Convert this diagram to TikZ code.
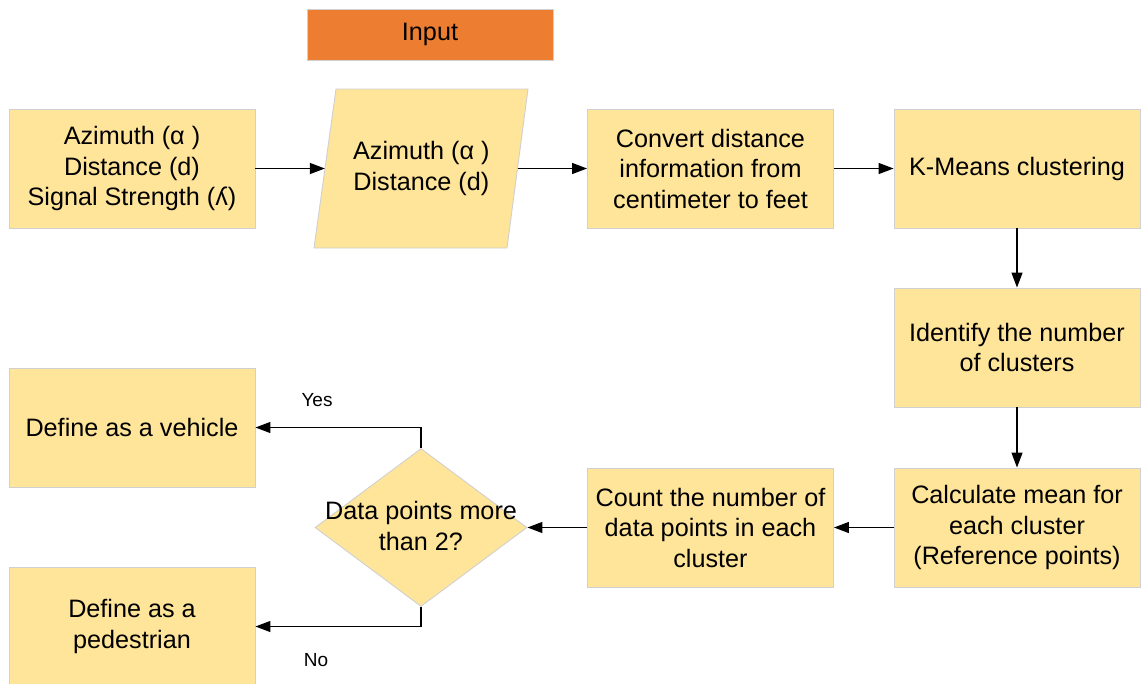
\documentclass[tikz,border=0pt]{standalone}
\usepackage{fontspec}
\setmainfont{Liberation Sans}
\usetikzlibrary{arrows.meta,shapes.geometric}
\definecolor{boxfill}{HTML}{FFE599}
\definecolor{boxline}{HTML}{D0D0D0}
\definecolor{inputfill}{HTML}{ED7D31}
\begin{document}
\begin{tikzpicture}[x=1pt,y=-1pt,
  every node/.style={font=\fontsize{25.2}{30.5}\selectfont, align=center, inner sep=0pt},
  stepbox/.style={draw=boxline, line width=0.9pt, fill=boxfill, minimum width=246pt, minimum height=119pt},
  flow/.style={line width=1.3pt, -{Triangle[length=15pt,width=11pt]}},
  branch/.style={font=\fontsize{19}{22}\selectfont}]
\useasboundingbox (0,0) rectangle (1143,683);
\begin{scope}
\clip (0,0) rectangle (1143,683);
% header
\node[draw=boxline, line width=0.9pt, fill=inputfill, minimum width=246pt, minimum height=51pt] (input) at (430,34.5) {Input};
% top row
\node[stepbox] (raw) at (132,168.5) {Azimuth (α )\\Distance (d)\\Signal Strength (ʎ)};
\draw[draw=boxline, line width=0.9pt, fill=boxfill] (336,89) -- (528,89) -- (507,248) -- (314,248) -- cycle;
\node[minimum width=192.5pt, minimum height=159pt] (para) at (421.3,168.5) {Azimuth (α )\\Distance (d)};
\node[stepbox] (conv) at (710.5,168.5) {Convert distance\\information from\\centimeter to feet};
\node[stepbox] (kmeans) at (1017,168.5) {K-Means clustering};
% right column
\node[stepbox] (ident) at (1017,347.5) {Identify the number\\of clusters};
\node[stepbox] (mean) at (1017,527.5) {Calculate mean for\\each cluster\\(Reference points)};
% bottom row
\node[stepbox] (count) at (710.5,527.5) {Count the number of\\data points in each\\cluster};
\node[diamond, draw=boxline, line width=0.9pt, fill=boxfill, minimum width=212pt, minimum height=158pt, aspect=1.34] (dec) at (421,527.5) {};
\node (dectext) at (421,526) {Data points more\\than 2?};
\node[stepbox] (veh) at (132,427.5) {Define as a vehicle};
\node[stepbox] (ped) at (132,626.5) {Define as a\\pedestrian};
% connectors
\draw[flow] (raw.east) -- (para.west);
\draw[flow] (para.east) -- (conv.west);
\draw[flow] (conv.east) -- (kmeans.west);
\draw[flow] (kmeans.south) -- (ident.north);
\draw[flow] (ident.south) -- (mean.north);
\draw[flow] (mean.west) -- (count.east);
\draw[flow] (count.west) -- (dec.east);
\draw[flow] (dec.north) |- (veh.east);
\draw[flow] (dec.south) |- (ped.east);
\node[branch] (yes) at (317,400) {Yes};
\node[branch] (no) at (316,660) {No};
\end{scope}
\end{tikzpicture}
\end{document}
